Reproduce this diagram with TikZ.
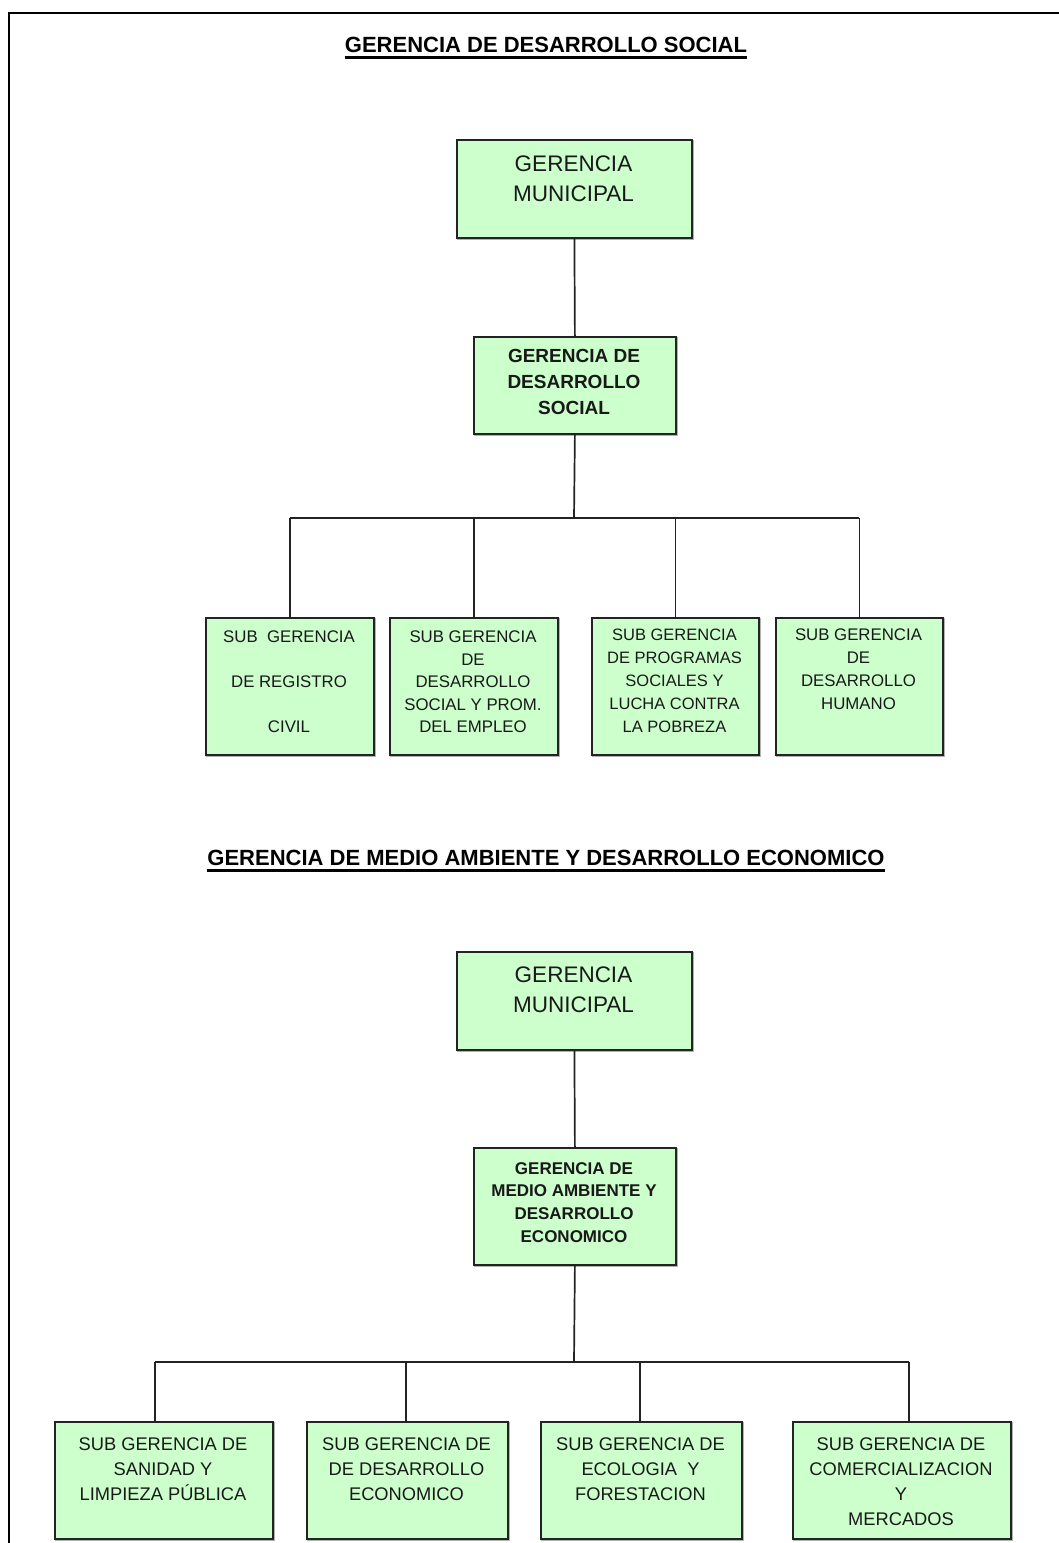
\documentclass[tikz,border=0pt]{standalone}
\usepackage{fontspec}
\setmainfont{Liberation Sans}
\usetikzlibrary{calc}
\definecolor{boxfill}{RGB}{204,255,204}
\definecolor{edge}{RGB}{35,35,35}
\newcommand{\fs}[2]{\fontsize{#1}{#2}\selectfont}
\begin{document}
\begin{tikzpicture}[x=1pt,y=-1pt,
  orgbox/.style={draw=edge, line width=1.8pt, fill=boxfill, rectangle, inner sep=0pt,
    preaction={draw=gray!60, line width=1.8pt, transform canvas={xshift=1.3pt,yshift=-1.3pt}}},
  txt/.style={inner sep=0pt, align=center, text=black!90},
  title/.style={inner sep=0pt, font=\bfseries\fs{22}{26}},
  link/.style={draw=edge, line width=1.7pt},
  uline/.style={draw=black, line width=3pt}]
\useasboundingbox (0,0) rectangle (1059,1543);
% page frame
\draw[line width=2.2pt] (9,1543) -- (9,13) -- (1059,13);

% ---------- first chart ----------
\node[title, anchor=base] (t1) at (546,52) {GERENCIA DE DESARROLLO SOCIAL};
\draw[uline] ($(t1.base west)+(0,5)$) -- ($(t1.base east)+(0,5)$);

\node[orgbox, minimum width=235pt, minimum height=98pt, anchor=north west] (gm1) at (456,139) {};
\node[txt, anchor=north, font=\fs{22.5}{30}] (gm1t) at (573.5,156) {GERENCIA\\MUNICIPAL};

\node[orgbox, minimum width=202pt, minimum height=97pt, anchor=north west] (gds) at (473,336) {};
\node[txt, anchor=north, font=\bfseries\fs{19}{26}] (gdst) at (574,349) {GERENCIA DE\\DESARROLLO\\SOCIAL};

\node[orgbox, minimum width=168pt, minimum height=137pt, anchor=north west] (c1) at (205,617) {};
\node[orgbox, minimum width=168pt, minimum height=137pt, anchor=north west] (c2) at (389,617) {};
\node[orgbox, minimum width=167pt, minimum height=137pt, anchor=north west] (c3) at (591,617) {};
\node[orgbox, minimum width=167pt, minimum height=137pt, anchor=north west] (c4) at (775,617) {};

\node[txt, anchor=north, font=\fs{16.8}{22.5}] (c1t) at (289,631) {SUB\ \ GERENCIA\\[22.5pt]DE REGISTRO\\[22pt]CIVIL};
\node[txt, anchor=north, font=\fs{16.8}{22.5}] (c2t) at (473,631) {SUB GERENCIA\\DE\\DESARROLLO\\SOCIAL Y PROM.\\DEL EMPLEO};
\node[txt, anchor=north, font=\fs{16.5}{23}] (c3t) at (674.5,629) {SUB GERENCIA\\DE PROGRAMAS\\SOCIALES Y\\LUCHA CONTRA\\LA POBREZA};
\node[txt, anchor=north, font=\fs{16.8}{22.7}] (c4t) at (858.5,629) {SUB GERENCIA\\DE\\DESARROLLO\\HUMANO};

\coordinate (bus1) at (574,518);
\draw[link] (gm1.south) -- (gds.north);
\draw[link] (gds.south) -- (bus1);
\draw[link] (bus1 -| c1.north) -- (bus1 -| c4.north);
\foreach \c in {c1,c2,c3,c4} \draw[link] (bus1 -| \c.north) -- (\c.north);

% ---------- second chart ----------
\node[title, anchor=base] (t2) at (546,865) {GERENCIA DE MEDIO AMBIENTE Y DESARROLLO ECONOMICO};
\draw[uline] ($(t2.base west)+(0,5)$) -- ($(t2.base east)+(0,5)$);

\node[orgbox, minimum width=235pt, minimum height=98pt, anchor=north west] (gm2) at (456,951) {};
\node[txt, anchor=north, font=\fs{22.5}{30}] (gm2t) at (573.5,967) {GERENCIA\\MUNICIPAL};

\node[orgbox, minimum width=202pt, minimum height=117pt, anchor=north west] (gma) at (473,1147) {};
\node[txt, anchor=north, font=\bfseries\fs{17}{22.7}] (gmat) at (574,1162) {GERENCIA DE\\MEDIO AMBIENTE Y\\DESARROLLO\\ECONOMICO};

\node[orgbox, minimum width=218pt, minimum height=117pt, anchor=north west] (d1) at (54,1421) {};
\node[orgbox, minimum width=201pt, minimum height=117pt, anchor=north west] (d2) at (306,1421) {};
\node[orgbox, minimum width=201pt, minimum height=117pt, anchor=north west] (d3) at (540,1421) {};
\node[orgbox, minimum width=218pt, minimum height=117pt, anchor=north west] (d4) at (792,1421) {};

\node[txt, anchor=north, font=\fs{18.3}{25}] (d1t) at (163,1437.5) {SUB GERENCIA DE\\SANIDAD Y\\LIMPIEZA PÚBLICA};
\node[txt, anchor=north, font=\fs{18.3}{25}] (d2t) at (406.5,1437.5) {SUB GERENCIA DE\\DE DESARROLLO\\ECONOMICO};
\node[txt, anchor=north, font=\fs{18.3}{25}] (d3t) at (640.5,1437.5) {SUB GERENCIA DE\\ECOLOGIA\ \ Y\\FORESTACION};
\node[txt, anchor=north, font=\fs{18.3}{25}] (d4t) at (901,1437.5) {SUB GERENCIA DE\\COMERCIALIZACION\\Y\\MERCADOS};

\coordinate (bus2) at (574,1362);
\coordinate (k1) at (155,1362);
\coordinate (k2) at (406,1362);
\coordinate (k3) at (640,1362);
\coordinate (k4) at (909,1362);
\draw[link] (gm2.south) -- (gma.north);
\draw[link] (gma.south) -- (bus2);
\draw[link] (k1) -- (k4);
\draw[link] (k1) -- (k1 |- d1.north);
\draw[link] (k2) -- (k2 |- d2.north);
\draw[link] (k3) -- (k3 |- d3.north);
\draw[link] (k4) -- (k4 |- d4.north);
\end{tikzpicture}
\end{document}
